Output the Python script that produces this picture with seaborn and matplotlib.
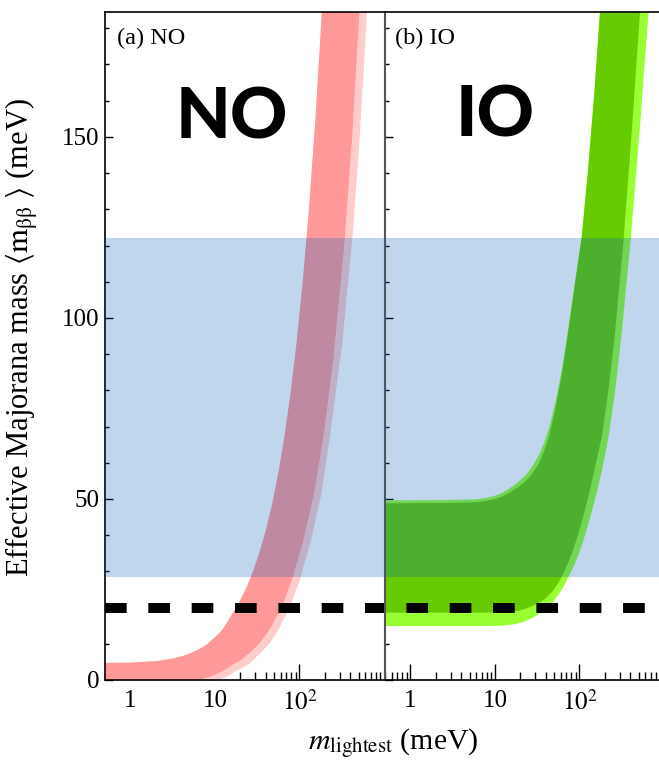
#!/usr/bin/env python3

import numpy as np
import matplotlib
matplotlib.use('Agg')
import matplotlib.pyplot as plt
from matplotlib.ticker import FixedLocator, LogLocator, MultipleLocator, NullFormatter
import seaborn as sns

SET_DPI = 100
FIGSIZE = (6.59, 7.62)

XLIM = (0.5, 1000)
YLIM = (0, 184.5)
XTICKS = [1, 10, 100]
XTICK_LABELS = ['1', '10', '$10^2$']
YTICKS = [0, 50, 100, 150]

# sensitivity band and expected limit (meV)
BAND_LOW = 28.5
BAND_HIGH = 122
LIMIT = 20

# (a) NO: shared upper edge, lower edge of the dark and light bands
NO_UP_M = [0.5, 1, 2, 3, 4, 5, 6, 7, 8, 10, 12, 14, 17, 20, 24, 28, 33, 40, 48,
           56, 66, 78, 92, 110, 130, 155, 181, 220]
NO_UP_V = [4.7, 4.8, 5.2, 5.8, 6.5, 7.3, 8.1, 8.9, 9.8, 11.8, 13.6, 16.0, 19.3,
           22.1, 25.9, 29.8, 34.6, 41.3, 49.0, 56.9, 66.8, 78.7, 92.6, 110.5,
           130.5, 155.5, 181.5, 220.5]
NO_LO_DARK_M = [0.5, 6.5, 8.7, 11, 13.5, 16.4, 20, 25, 33.8, 45, 61, 82, 110, 146,
                190, 250, 338, 420, 508, 622]
NO_LO_DARK_V = [0, 0, 0.9, 1.9, 3.0, 4.3, 5.4, 7.2, 10.1, 14.2, 19.9, 27.8, 38.2,
                50.6, 66.5, 88, 120, 150, 183.5, 224]
NO_LO_LIGHT_M = [0.5, 11, 13.7, 17, 21, 25.8, 33, 44.4, 58, 76, 100, 137, 180, 230,
                 320, 423, 520, 630, 770]
NO_LO_LIGHT_V = [0, 0, 0.9, 2.2, 3.4, 4.6, 7.0, 10.1, 14.5, 19.8, 27.3, 38.7, 51.0,
                 67.5, 93, 122, 151, 184.5, 224]

# (b) IO
IO_UP_M = [0.5, 3, 6, 8, 10, 12, 14, 17, 20, 24, 28, 33, 38, 44, 52, 62, 74, 88,
           106, 125, 150, 175, 215]
IO_UP_DARK_V = [48.8, 48.9, 49.1, 49.5, 50.0, 50.6, 51.4, 52.6, 53.7, 55.3, 57.2,
                59.7, 63.0, 67.5, 75.0, 84.5, 96.5, 109, 122, 139.5, 162, 184.5, 222]
IO_UP_LIGHT_V = [49.6, 49.7, 49.9, 50.3, 50.9, 51.6, 52.5, 53.9, 55.2, 57.0, 59.2,
                 62.0, 65.4, 69.8, 76.8, 85.8, 97.4, 109.6, 122.5, 140, 162.5, 185,
                 222.5]
IO_LO_DARK_M = [0.5, 8, 12, 17, 22, 27, 33, 40, 48, 57, 67, 79, 93, 110, 130, 155,
                185, 220, 263, 331, 420, 522, 630]
IO_LO_DARK_V = [18.6, 18.6, 18.7, 18.9, 19.5, 20.3, 21.3, 22.6, 24.5, 27.0, 30.2,
                34.2, 39.0, 44.8, 51.5, 59.5, 67.5, 80.0, 95.8, 121.0, 153.0, 185.0,
                224]
IO_LO_LIGHT_M = [0.5, 8, 12, 17, 22, 27, 33, 40, 48, 57, 67, 79, 93, 110, 130, 155,
                 185, 220, 263, 316, 405, 520, 657, 800]
IO_LO_LIGHT_V = [14.9, 14.9, 15.0, 15.4, 16.1, 17.0, 18.2, 19.6, 21.4, 23.7, 26.4,
                 29.7, 33.4, 38.2, 43.8, 50.5, 58.0, 67.0, 79.5, 95.8, 122.0, 153.0,
                 184.5, 222]

PINK_DARK = '#ff9999'
PINK_LIGHT = '#ffcccc'
GREEN_DARK = '#66cc00'
GREEN_LIGHT = '#99ff33'
BLUE = '#005cba'

sns.set_theme(style='ticks')
plt.rcParams['font.family'] = ['Liberation Serif', 'DejaVu Serif']
plt.rcParams['mathtext.fontset'] = 'stix'
plt.rcParams['lines.scale_dashes'] = False
for key in ['text.color', 'axes.labelcolor', 'xtick.color', 'ytick.color']:
    plt.rcParams[key] = 'black'


def fill_band(ax, up_m, up_v, lo_m, lo_v, colour):
    xs = np.r_[up_m, lo_m[::-1]]
    ys = np.r_[up_v, lo_v[::-1]]
    ax.fill(xs, ys, color=colour, lw=0, zorder=1)


def style_axis(ax):
    ax.set_xscale('log')
    ax.set_xlim(*XLIM)
    ax.set_ylim(*YLIM)
    ax.xaxis.set_major_locator(FixedLocator(XTICKS))
    ax.set_xticklabels(XTICK_LABELS)
    ax.xaxis.set_minor_locator(LogLocator(base=10, subs=np.arange(2, 10), numticks=20))
    ax.xaxis.set_minor_formatter(NullFormatter())
    ax.yaxis.set_major_locator(FixedLocator(YTICKS))
    ax.yaxis.set_minor_locator(MultipleLocator(10))
    ax.tick_params(axis='x', which='major', direction='in', length=11.5, width=1.0,
                   pad=7, labelsize=18, top=False)
    ax.tick_params(axis='x', which='minor', direction='in', length=6, width=1.0,
                   top=False)
    ax.tick_params(axis='y', which='major', direction='in', length=5.5, width=1.0,
                   pad=4, labelsize=18, right=False)
    ax.tick_params(axis='y', which='minor', direction='in', length=3, width=1.0,
                   right=False)
    for side in ['top', 'bottom', 'left', 'right']:
        ax.spines[side].set_color('black')
        ax.spines[side].set_linewidth(1.2)


fig = plt.figure(figsize=FIGSIZE, dpi=SET_DPI)
ax1 = fig.add_axes([105 / 659, 82 / 762, 279 / 659, 668 / 762])
ax2 = fig.add_axes([385 / 659, 82 / 762, 279 / 659, 668 / 762])

# 01. NO panel
fill_band(ax1, NO_UP_M, NO_UP_V, NO_LO_LIGHT_M, NO_LO_LIGHT_V, PINK_LIGHT)
fill_band(ax1, NO_UP_M, NO_UP_V, NO_LO_DARK_M, NO_LO_DARK_V, PINK_DARK)

# 02. IO panel
fill_band(ax2, IO_UP_M, IO_UP_LIGHT_V, IO_LO_LIGHT_M, IO_LO_LIGHT_V, GREEN_LIGHT)
fill_band(ax2, IO_UP_M, IO_UP_DARK_V, IO_LO_DARK_M, IO_LO_DARK_V, GREEN_DARK)

dash = (15.6, 15.6)
for ax, offset in [(ax1, 0), (ax2, 15.8)]:
    style_axis(ax)
    ax.axhspan(BAND_LOW, BAND_HIGH, color=BLUE, alpha=0.25, lw=0, zorder=3)
    ax.axhline(LIMIT, color='black', lw=7.2, ls=(offset, dash), zorder=4)

ax1.spines['right'].set_visible(False)
ax2.spines['left'].set_color('#555555')
ax2.spines['left'].set_linewidth(1.5)
ax2.tick_params(axis='y', which='both', labelleft=False)

ax1.text(0.043, 0.952, '(a) NO', transform=ax1.transAxes, fontsize=17.5,
         ha='left', va='baseline')
ax2.text(0.036, 0.952, '(b) IO', transform=ax2.transAxes, fontsize=17.5,
         ha='left', va='baseline')
ax1.text(0.455, 0.811, 'NO', transform=ax1.transAxes, fontsize=51,
         family='Lato', weight='black', ha='center', va='baseline')
ax2.text(0.396, 0.813, 'IO', transform=ax2.transAxes, fontsize=51,
         family='Lato', weight='black', ha='center', va='baseline')

fig.text(0.033, 0.557,
         r'Effective Majorana mass $\langle\mathrm{m}_{\mathrm{ββ}}\ \rangle$ (meV)',
         rotation=90, ha='center', va='center', fontsize=22)
fig.text(0.597, 2 / 762, r'$m_{\mathrm{lightest}}$ (meV)', ha='center',
         va='bottom', fontsize=21.5)

fig.savefig('out.png', dpi=SET_DPI)
